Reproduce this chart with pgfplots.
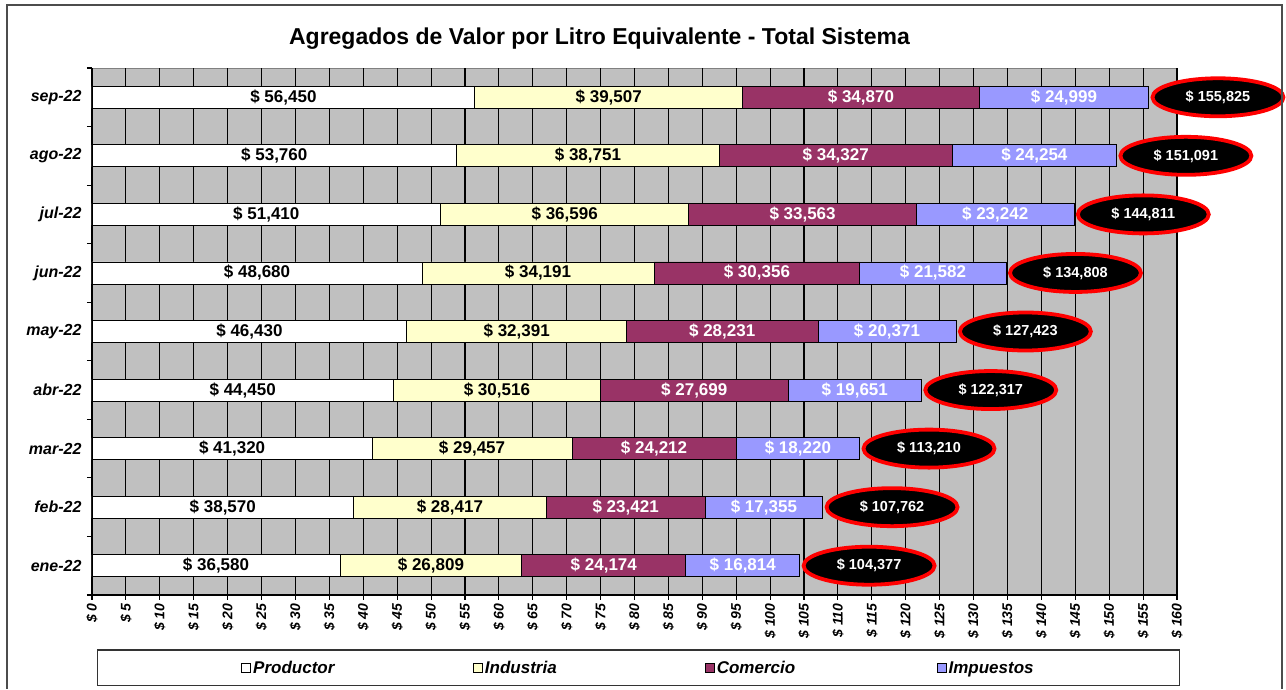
\documentclass[border=0pt]{standalone}
\usepackage{fontspec}
\setmainfont{Liberation Sans}
\usepackage{pgfplots}
\usepackage{pgfplotstable}
\pgfplotsset{compat=1.18}
\usetikzlibrary{shapes.geometric}
\definecolor{bgc}{HTML}{C0C0C0}
\definecolor{cprod}{HTML}{FFFFFF}
\definecolor{cind}{HTML}{FFFFCC}
\definecolor{ccom}{HTML}{993366}
\definecolor{cimp}{HTML}{9999FF}

\pgfplotstableread{
idx prod ind com imp total
0 36.580 26.809 24.174 16.814 104.377
1 38.570 28.417 23.421 17.355 107.762
2 41.320 29.457 24.212 18.220 113.210
3 44.450 30.516 27.699 19.651 122.317
4 46.430 32.391 28.231 20.371 127.423
5 48.680 34.191 30.356 21.582 134.808
6 51.410 36.596 33.563 23.242 144.811
7 53.760 38.751 34.327 24.254 151.091
8 56.450 39.507 34.870 24.999 155.825
}\data

\pgfplotsset{
  seglabel/.style={
    only marks, mark=none,
    point meta=explicit,
    nodes near coords={\$ \pgfmathprintnumber{\pgfplotspointmeta}},
    nodes near coords style={anchor=center, text=#1,
      font=\fontsize{17}{19}\selectfont\bfseries,
      /pgf/number format/.cd, fixed, fixed zerofill, precision=3, use comma, assume math mode=true}
  },
  samegeom/.style={
    scale only axis, width=1085pt, height=527pt,
    xmin=0, xmax=160, ymin=-0.5, ymax=8.5,
  }
}

\begin{document}
\begin{tikzpicture}
\begin{axis}[
  name=ax,
  at={(0pt,0pt)}, anchor=south west,
  samegeom,
  xbar stacked, bar width=22pt,
  axis lines*=left,
  axis line style={black, line width=1.2pt},
  axis background/.style={fill=bgc, draw=gray, line width=1pt},
  xtick={0,5,...,160},
  xticklabel={\$ \pgfmathprintnumber{\tick}},
  /pgf/number format/assume math mode=true,
  xticklabel style={rotate=90, anchor=east, font=\fontsize{14}{16}\selectfont\bfseries\itshape},
  xmajorgrids, grid style={black, line width=1.1pt},
  tick style={black, line width=1.1pt},
  tick align=outside, major tick length=5pt,
  ytick={-0.5,0.5,...,8.5}, yticklabels={},
  extra y ticks={0,1,...,8},
  extra y tick labels={ene-22,feb-22,mar-22,abr-22,may-22,jun-22,jul-22,ago-22,sep-22},
  extra y tick style={ytick style={draw=none}, grid=none},
  yticklabel style={font=\fontsize{16}{18}\selectfont\bfseries\itshape, xshift=-2pt},
  legend columns=4,
  legend style={at={(0.5037,-0.1385)}, anchor=center, draw=black!80, line width=1.2pt,
    inner xsep=144pt, inner ysep=9pt,
    font=\fontsize{17}{20}\selectfont\bfseries\itshape,
    /tikz/every even column/.append style={column sep=0pt}},
  legend image code/.code={\draw[#1, draw=black, line width=0.8pt] (0pt,-4.5pt) rectangle (9pt,4.5pt);},
  title={Agregados de Valor por Litro Equivalente - Total Sistema},
  title style={at={(0.4677,1.0436)}, anchor=center, font=\fontsize{23}{26}\selectfont\bfseries},
]
\addplot[fill=cprod, draw=black, line width=0.8pt, forget plot] table[x=prod, y=idx] {\data};
\addplot[fill=cind, draw=black, line width=0.8pt, forget plot] table[x=ind, y=idx] {\data};
\addplot[fill=ccom, draw=black, line width=0.8pt, forget plot] table[x=com, y=idx] {\data};
\addplot[fill=cimp, draw=black, line width=0.8pt, forget plot] table[x=imp, y=idx] {\data};
\addlegendimage{fill=cprod}
\addlegendentry{\makebox[218pt][l]{Productor}}
\addlegendimage{fill=cind}
\addlegendentry{\makebox[218pt][l]{Industria}}
\addlegendimage{fill=ccom}
\addlegendentry{\makebox[218pt][l]{Comercio}}
\addlegendimage{fill=cimp}
\addlegendentry{Impuestos}
\end{axis}
\begin{axis}[
  at={(ax.south west)}, anchor=south west,
  samegeom, hide axis, clip=false,
]
% segment labels, centred in each segment of the stacked bars
\addplot[seglabel=black] table[x expr=0.5*\thisrow{prod}, y=idx, meta=prod] {\data};
\addplot[seglabel=black] table[x expr=\thisrow{prod}+0.5*\thisrow{ind}, y=idx, meta=ind] {\data};
\addplot[seglabel=white] table[x expr=\thisrow{prod}+\thisrow{ind}+0.5*\thisrow{com}, y=idx, meta=com] {\data};
\addplot[seglabel=white] table[x expr=\thisrow{prod}+\thisrow{ind}+\thisrow{com}+0.5*\thisrow{imp}, y=idx, meta=imp] {\data};
% totals
\addplot[only marks, mark=none, point meta=x,
  nodes near coords={\$ \pgfmathprintnumber{\pgfplotspointmeta}},
  nodes near coords style={ellipse, fill=black, draw=red, line width=3.8pt, anchor=west,
    xshift=1.9pt, minimum width=131pt, minimum height=38pt, inner sep=0pt, text=white,
    font=\fontsize{14.5}{16}\selectfont\bfseries,
    /pgf/number format/.cd, fixed, fixed zerofill, precision=3, use comma, assume math mode=true}
] table[x=total, y=idx] {\data};
\end{axis}
\path (ax.south west) ++(-92pt,-94pt) rectangle ++(1286pt,689pt);
\draw[line width=1.4pt, black!70] (ax.south west) ++(-85pt,-94pt) -- ++(0pt,684pt) -- ++(1275pt,0pt) -- ++(0pt,-684pt);
\end{tikzpicture}
\end{document}
